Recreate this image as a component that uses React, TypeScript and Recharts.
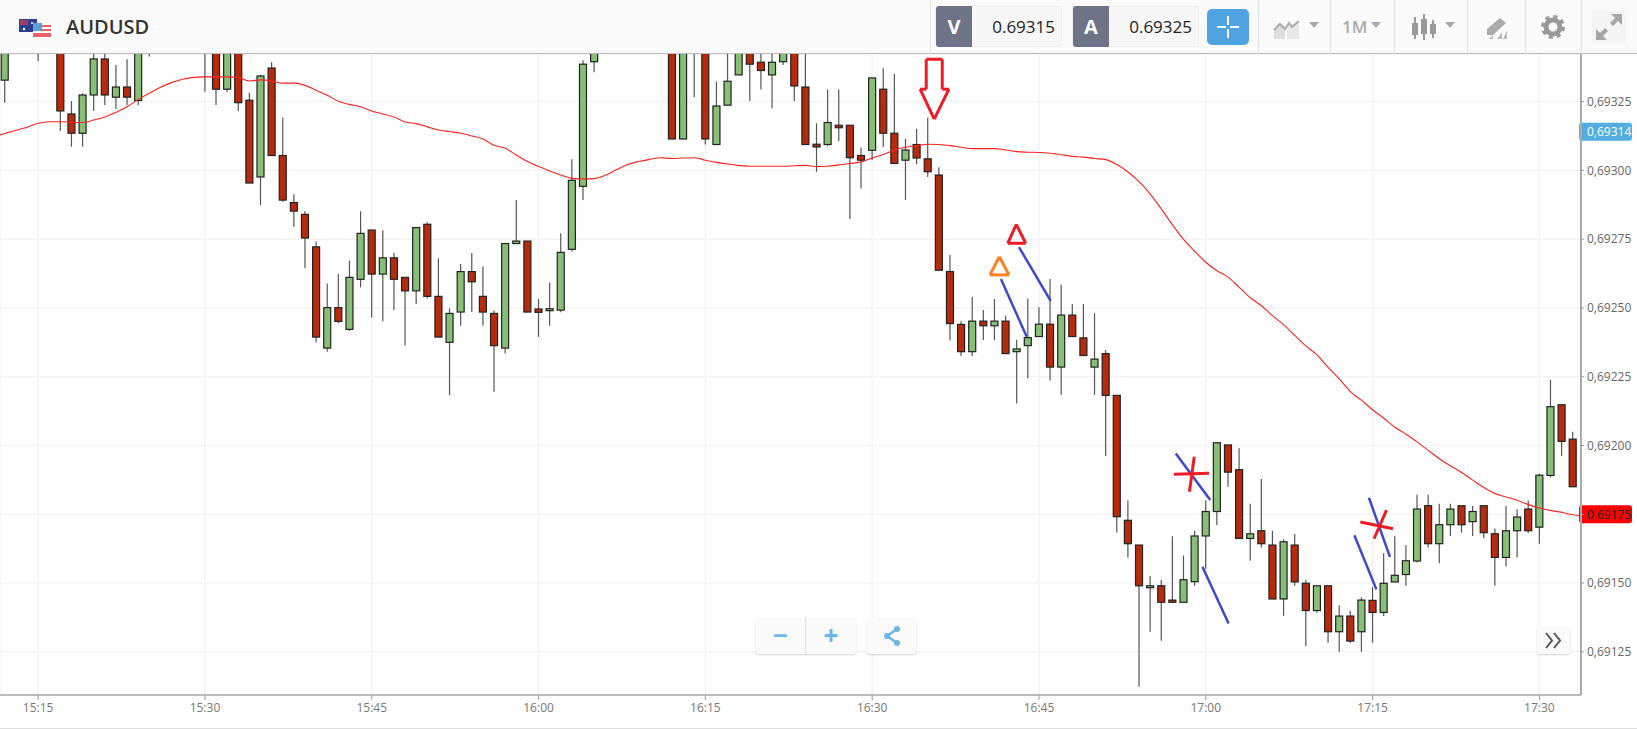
/**
 * AUDUSD one-minute candles with a moving average and hand-drawn markups.
 */
import React from "react";
import {
  Bar,
  CartesianGrid,
  ComposedChart,
  Line,
  ReferenceLine,
  XAxis,
  YAxis,
} from "recharts";

const FONT = "'Open Sans', sans-serif";

// candles are one per minute, minutes counted from midnight, first one is 15:11
const FIRST_MINUTE = 911;

// null = the candle sits above the visible window
const opens = [
  null,
  0.693328, null, null, 0.6935, null, 0.6935, 0.693205, 0.693135, 0.693274, 0.693405,
  0.693266, 0.693303, 0.693254, 0.6935, null, null, null, null, 0.69355, 0.6935,
  0.693295, 0.6935, 0.693255, 0.692976, 0.693372, 0.693054, 0.692883, 0.69284, 0.692722, 0.692354,
  0.692501, 0.692422, 0.692604, 0.692783, 0.692623, 0.692682, 0.692611, 0.692562, 0.692804, 0.692542,
  0.692375, 0.692485, 0.692632, 0.692542, 0.69248, 0.692354, 0.692734, 0.692743, 0.692496, 0.69249,
  0.692492, 0.692713, 0.692942, 0.693395, null, null, null, null, null, null,
  0.6935, 0.693114, 0.6935, 0.6935, 0.693094, 0.693237, 0.693347, 0.6935, 0.693393, 0.693347,
  0.693395, 0.6935, 0.693303, 0.693095, 0.693094, 0.693164, 0.693164, 0.693054, 0.693073, 0.693295,
  0.693135, 0.693037, 0.693094, 0.693042, 0.692983, 0.692632, 0.69244, 0.692341, 0.692452, 0.692435,
  0.692452, 0.692341, 0.692363, 0.692396, 0.692441, 0.692285, 0.692474, 0.692391, 0.692285, 0.692334,
  0.692182, 0.691728, 0.691638, 0.691483, 0.69149, 0.691438, 0.69143, 0.691505, 0.691671, 0.69176,
  0.692002, 0.691912, 0.691662, 0.69169, 0.691638, 0.691442, 0.691638, 0.691499, 0.6914, 0.69149,
  0.691323, 0.69138, 0.691323, 0.691437, 0.691393, 0.691504, 0.691531, 0.69158, 0.691781, 0.691643,
  0.691712, 0.691781, 0.691723, 0.691781, 0.691679, 0.691593, 0.69169, 0.691769, 0.691703, 0.691891,
  0.692148, 0.692023, null,
];

const highs = [
  null,
  0.69352, null, null, 0.69352, null, 0.69352, 0.693252, 0.69328, 0.69343, 0.69343,
  0.693383, 0.693404, 0.69352, 0.69352, null, null, null, null, 0.69358, 0.69352,
  0.69352, 0.69352, 0.693282, 0.693348, 0.693393, 0.693192, 0.692913, 0.692851, 0.692741, 0.692589,
  0.692623, 0.692672, 0.692851, 0.692783, 0.692782, 0.692701, 0.692611, 0.692792, 0.692811, 0.69268,
  0.692498, 0.69266, 0.6927, 0.692651, 0.692491, 0.692734, 0.692892, 0.692743, 0.692532, 0.692592,
  0.692771, 0.69304, 0.6934, 0.69348, null, null, null, null, null, null,
  0.69352, 0.69352, 0.69352, 0.69352, 0.693323, 0.69345, 0.69352, 0.69352, 0.69345, 0.69345,
  0.69346, 0.69352, 0.69345, 0.693171, 0.693294, 0.693294, 0.693164, 0.693083, 0.693336, 0.693371,
  0.693351, 0.693114, 0.693151, 0.693191, 0.693011, 0.692692, 0.692452, 0.692541, 0.692492, 0.692532,
  0.692472, 0.692384, 0.692533, 0.692502, 0.692605, 0.692584, 0.692514, 0.692514, 0.692481, 0.692347,
  0.692182, 0.6918, 0.691638, 0.691526, 0.691511, 0.69167, 0.6916, 0.69169, 0.6918, 0.69201,
  0.692002, 0.69199, 0.691788, 0.691878, 0.69169, 0.691659, 0.691678, 0.691511, 0.69149, 0.69149,
  0.691419, 0.691399, 0.691448, 0.691486, 0.691608, 0.69167, 0.691637, 0.691821, 0.691821, 0.691788,
  0.691788, 0.691781, 0.69178, 0.691781, 0.691698, 0.69178, 0.691768, 0.6918, 0.691897, 0.692238,
  0.692148, 0.69205, null,
];

const lows = [
  null,
  0.693246, null, null, 0.693398, null, 0.693143, 0.693086, 0.693086, 0.693216, 0.693238,
  0.693223, 0.693238, 0.693237, 0.693414, null, null, null, null, 0.693286, 0.693238,
  0.693286, 0.693216, 0.692954, 0.692874, 0.693054, 0.692886, 0.692795, 0.692644, 0.692374, 0.692341,
  0.692444, 0.692416, 0.692575, 0.692465, 0.692452, 0.692492, 0.692363, 0.692514, 0.692535, 0.692394,
  0.692183, 0.692435, 0.692485, 0.692435, 0.692195, 0.692334, 0.692734, 0.692485, 0.692395, 0.692435,
  0.692484, 0.692705, 0.692892, 0.693357, null, null, null, null, null, null,
  0.693114, 0.693114, 0.693266, 0.693094, 0.693094, 0.693237, 0.693347, 0.693252, 0.693294, 0.693225,
  0.693383, 0.693252, 0.693094, 0.692995, 0.693089, 0.693107, 0.692823, 0.692934, 0.693038, 0.693085,
  0.693025, 0.692892, 0.693023, 0.692976, 0.692637, 0.692382, 0.692325, 0.692325, 0.692383, 0.692383,
  0.692334, 0.692153, 0.692244, 0.692396, 0.692236, 0.692184, 0.692396, 0.692327, 0.692184, 0.691962,
  0.691684, 0.691593, 0.691123, 0.691323, 0.69129, 0.69143, 0.69143, 0.69149, 0.691552, 0.691711,
  0.69185, 0.691662, 0.691581, 0.691629, 0.691442, 0.691381, 0.69149, 0.691271, 0.691392, 0.691283,
  0.69125, 0.691283, 0.69125, 0.691283, 0.69138, 0.691504, 0.69149, 0.691575, 0.691629, 0.691572,
  0.691671, 0.691683, 0.691671, 0.691663, 0.69149, 0.69156, 0.691593, 0.691683, 0.691643, 0.691884,
  0.691962, 0.69185, null,
];

const closes = [
  null,
  0.6935, null, null, 0.69345, null, 0.693216, 0.693135, 0.693274, 0.693405, 0.693274,
  0.693303, 0.693266, 0.6935, 0.69345, null, null, null, null, 0.69348, 0.693295,
  0.6935, 0.693246, 0.692954, 0.693343, 0.693054, 0.692892, 0.692852, 0.692754, 0.692394, 0.692501,
  0.692451, 0.692611, 0.692771, 0.692623, 0.692682, 0.692604, 0.692562, 0.692792, 0.692542, 0.692394,
  0.69248, 0.692632, 0.692595, 0.692485, 0.692363, 0.692734, 0.692743, 0.692485, 0.692484, 0.692497,
  0.692702, 0.692964, 0.693386, 0.69346, null, null, null, null, null, null,
  0.693114, 0.6935, 0.69345, 0.693114, 0.693234, 0.693324, 0.6935, 0.693386, 0.693363, 0.693393,
  0.69345, 0.693307, 0.693094, 0.693085, 0.693174, 0.693155, 0.693046, 0.693037, 0.693336, 0.693135,
  0.693025, 0.693074, 0.693045, 0.692995, 0.692637, 0.692443, 0.692341, 0.692452, 0.692435, 0.692452,
  0.692334, 0.692351, 0.692392, 0.692441, 0.692285, 0.692474, 0.692396, 0.692327, 0.692314, 0.692182,
  0.691741, 0.691643, 0.69149, 0.69149, 0.69143, 0.69143, 0.691512, 0.691671, 0.69176, 0.69201,
  0.691903, 0.691662, 0.691679, 0.691643, 0.691442, 0.69165, 0.691504, 0.6914, 0.69149, 0.691323,
  0.69138, 0.691289, 0.691438, 0.691393, 0.691499, 0.691528, 0.691581, 0.691769, 0.691643, 0.691712,
  0.691769, 0.691712, 0.69176, 0.691683, 0.691593, 0.69169, 0.69174, 0.69169, 0.691892, 0.692141,
  0.692015, 0.69185, null,
];

const movingAverage = [
  0.693122,
  0.693134, 0.693146, 0.693157, 0.693171, 0.693177, 0.693177, 0.693175, 0.693174, 0.693183, 0.693194,
  0.693211, 0.693231, 0.693258, 0.69328, 0.693302, 0.693319, 0.693331, 0.693338, 0.69334, 0.69334,
  0.69334, 0.693338, 0.693325, 0.693329, 0.693325, 0.693317, 0.693317, 0.693309, 0.693291, 0.693273,
  0.693251, 0.69324, 0.693231, 0.693216, 0.693205, 0.693194, 0.693176, 0.69317, 0.693158, 0.693147,
  0.693141, 0.693135, 0.693125, 0.693114, 0.693091, 0.69308, 0.693056, 0.693032, 0.693014, 0.692998,
  0.692983, 0.692971, 0.692969, 0.69297, 0.692982, 0.693002, 0.693021, 0.693032, 0.69304, 0.693046,
  0.693043, 0.693045, 0.693046, 0.693037, 0.693029, 0.693023, 0.693018, 0.693015, 0.693015, 0.693015,
  0.693015, 0.693017, 0.693018, 0.693014, 0.693015, 0.69302, 0.693025, 0.693031, 0.693045, 0.693058,
  0.693074, 0.693084, 0.69309, 0.693095, 0.693094, 0.69309, 0.693084, 0.693079, 0.693079, 0.693079,
  0.693074, 0.693068, 0.693066, 0.693065, 0.693062, 0.693057, 0.693051, 0.693048, 0.693043, 0.693039,
  0.693021, 0.692994, 0.692959, 0.692914, 0.69286, 0.692802, 0.692749, 0.692706, 0.692666, 0.692635,
  0.692612, 0.692575, 0.692537, 0.692508, 0.692472, 0.692439, 0.6924, 0.692362, 0.692329, 0.692284,
  0.692242, 0.692196, 0.692164, 0.69213, 0.692099, 0.692066, 0.692041, 0.692013, 0.691982, 0.691952,
  0.691926, 0.691902, 0.691874, 0.691847, 0.691825, 0.691813, 0.691801, 0.691785, 0.691773, 0.691764,
  0.691757, 0.691748, 0.691744,
];

const timeTicks = [915, 930, 945, 960, 975, 990, 1005, 1020, 1035, 1050];
const priceTicks = [0.69125, 0.6915, 0.69175, 0.692, 0.69225, 0.6925, 0.69275, 0.693, 0.69325];

const bidLabel = "0.69315";
const askLabel = "0.69325";
const currentPrice = 0.69314;
const lastPrice = 0.69175;

// markups drawn over the chart, as [minute, price]
const redArrow = [
  [994.86, 0.693404], [996.3, 0.693404], [996.3, 0.693295], [996.9, 0.693295], [995.58, 0.693186],
  [994.31, 0.693295], [994.86, 0.693295], [994.86, 0.693404],
];
const redTriangle = [[1002.96, 0.692804], [1003.8, 0.692735], [1002.19, 0.692735], [1002.96, 0.692804]];
const orangeTriangle = [[1001.43, 0.692686], [1002.3, 0.69262], [1000.59, 0.69262], [1001.43, 0.692686]];
const blueStrokes = [
  [[1001.58, 0.692605], [1003.9, 0.692395]],
  [[1003.2, 0.692721], [1006.05, 0.692526]],
  [[1017.3, 0.691971], [1020.4, 0.691802]],
  [[1019.7, 0.691559], [1022.05, 0.691353]],
  [[1033.36, 0.691674], [1035.34, 0.691477]],
  [[1034.67, 0.69181], [1036.56, 0.691595]],
];
const redCrosses = [
  [[1017.13, 0.691895], [1020.29, 0.691899]],
  [[1018.96, 0.691959], [1018.53, 0.691832]],
  [[1033.9, 0.691722], [1036.83, 0.691697]],
  [[1036.25, 0.691765], [1035.13, 0.691661]],
];

const chartData = movingAverage.map((ma, i) => ({
  minute: FIRST_MINUTE + i,
  open: opens[i],
  high: highs[i],
  low: lows[i],
  close: closes[i],
  range: highs[i] == null ? null : [lows[i], highs[i]],
  ma,
}));

const formatTime = (m: number) =>
  `${Math.floor(m / 60)}:${String(m % 60).padStart(2, "0")}`;
const formatPrice = (v: number) => v.toFixed(5).replace(".", ",");

const Candle = (props: any) => {
  const { x, y, width, height, payload } = props;
  if (payload.high == null || !height) return null;
  const top = Math.min(y, y + height);
  const span = Math.abs(height);
  const toY = (v: number) =>
    top + ((payload.high - v) / (payload.high - payload.low)) * span;
  const up = payload.close >= payload.open;
  const bodyTop = toY(Math.max(payload.open, payload.close));
  const bodyBottom = toY(Math.min(payload.open, payload.close));
  const cx = x + width / 2;
  return (
    <g>
      <line x1={cx} x2={cx} y1={top} y2={top + span} stroke="#555" strokeWidth={1.2} />
      <rect
        x={x}
        y={bodyTop}
        width={width}
        height={Math.max(bodyBottom - bodyTop, 1)}
        fill={up ? "#86bf75" : "#b82a0a"}
        stroke="#222"
        strokeWidth={1.2}
      />
    </g>
  );
};

const priceTag = (value: number, fill: string, color: string) => (props: any) => {
  const { viewBox } = props;
  const left = viewBox.x + viewBox.width - 2;
  const cy = viewBox.y;
  return (
    <g>
      <rect x={left} y={cy - 9} width={53} height={18} rx={3} fill={fill} />
      <text
        x={left + 8}
        y={cy + 4.5}
        fontFamily={FONT}
        fontSize={12}
        fill={color}
      >
        {formatPrice(value)}
      </text>
    </g>
  );
};

function polySegments(points: number[][], stroke: string, width: number, key: string) {
  return points.slice(1).map((p, i) => (
    <ReferenceLine
      key={`${key}-${i}`}
      ifOverflow="visible"
      stroke={stroke}
      strokeWidth={width}
      segment={[
        { x: points[i][0], y: points[i][1] },
        { x: p[0], y: p[1] },
      ]}
    />
  ));
}

const caret = (left: number, top: number, width: number) => (
  <div
    style={{
      position: "absolute",
      left,
      top,
      width: 0,
      height: 0,
      borderLeft: `${width / 2}px solid transparent`,
      borderRight: `${width / 2}px solid transparent`,
      borderTop: "6px solid #aaa",
    }}
  />
);

const Divider = ({ x }: { x: number }) => (
  <div style={{ position: "absolute", left: x, top: 0, width: 1, height: 54, background: "#e2e2e2" }} />
);

function Quote({ x, letter, value }: { x: number; letter: string; value: string }) {
  return (
    <div
      style={{
        position: "absolute",
        left: x,
        top: 6,
        width: 127,
        height: 41,
        background: "#f7f7f7",
        border: "1px solid #eee",
        boxSizing: "border-box",
        borderRadius: 3,
      }}
    >
      <div
        style={{
          position: "absolute",
          left: 0,
          top: -1,
          width: 36,
          height: 41,
          background: "#6e7387",
          color: "#fff",
          fontWeight: 700,
          fontSize: 20,
          lineHeight: "41px",
          textAlign: "center",
          borderRadius: "3px 0 0 3px",
        }}
      >
        {letter}
      </div>
      <div
        style={{
          position: "absolute",
          right: 6,
          top: 0,
          fontSize: 17,
          lineHeight: "39px",
          color: "#222",
        }}
      >
        {value}
      </div>
    </div>
  );
}

function Header() {
  return (
    <div
      style={{
        position: "absolute",
        left: 0,
        top: 0,
        width: 1637,
        height: 54,
        background: "#fafafa",
        borderBottom: "1px solid #bbb",
        boxSizing: "border-box",
        fontFamily: FONT,
        zIndex: 2,
      }}
    >
      <svg style={{ position: "absolute", left: 19, top: 19 }} width={33} height={19}>
        <rect x={0} y={0} width={18} height={13} fill="#2f3f8f" />
        <rect x={1} y={1} width={8} height={5} fill="#c8414f" opacity={0.7} />
        <circle cx={13} cy={4} r={1} fill="#fff" />
        <circle cx={5} cy={10} r={1.2} fill="#fff" />
        <rect x={14} y={4} width={18} height={14} fill="#fff" />
        <rect x={14} y={6} width={18} height={2} fill="#e9606a" />
        <rect x={14} y={10} width={18} height={2} fill="#e9606a" />
        <rect x={14} y={14} width={18} height={2} fill="#e9606a" />
        <rect x={14} y={16} width={18} height={2} fill="#e9606a" />
        <rect x={14} y={4} width={9} height={8} fill="#5aa0dc" />
      </svg>
      <div
        style={{
          position: "absolute",
          left: 66,
          top: 13,
          fontSize: 20,
          lineHeight: "28px",
          fontWeight: 600,
          color: "#333",
        }}
      >
        AUDUSD
      </div>

      <Divider x={930} />
      <Quote x={935} letter="V" value={bidLabel} />
      <Quote x={1072} letter="A" value={askLabel} />

      <div
        style={{
          position: "absolute",
          left: 1207,
          top: 9,
          width: 42,
          height: 36,
          background: "#4ea3e0",
          borderRadius: 5,
        }}
      >
        <svg width={42} height={36}>
          <path d="M21 7v9M21 20v9M10 18h9M23 18h9" stroke="#fff" strokeWidth={2} />
        </svg>
      </div>

      <Divider x={1258} />
      <svg style={{ position: "absolute", left: 1273, top: 19 }} width={28} height={21}>
        <path d="M1 20V10l6-5 5 5v10z" fill="#ddd" />
        <path d="M14 20V8l12-6v18z" fill="#e8e8e8" />
        <path d="M1 11l6-6 5 5 4-6 3 4 7-6" fill="none" stroke="#aaa" strokeWidth={2} />
      </svg>
      {caret(1309, 22, 10)}

      <Divider x={1330} />
      <div
        style={{
          position: "absolute",
          left: 1342,
          top: 15,
          fontSize: 17,
          lineHeight: "24px",
          fontWeight: 600,
          color: "#aaa",
        }}
      >
        1M
      </div>
      {caret(1371, 22, 11)}

      <Divider x={1394} />
      <svg style={{ position: "absolute", left: 1411, top: 14 }} width={26} height={28}>
        <path d="M4 3v22M13 0v26M22 6v18" stroke="#999" strokeWidth={2} />
        <rect x={1} y={9} width={6} height={12} fill="#999" />
        <rect x={10} y={5} width={6} height={15} fill="#999" />
        <rect x={19} y={10} width={6} height={10} fill="#999" />
      </svg>
      {caret(1445, 22, 10)}

      <Divider x={1467} />
      <svg style={{ position: "absolute", left: 1483, top: 17 }} width={25} height={24}>
        <path d="M17 1l6 5L10 18H4v-6z" fill="#aaa" />
        <path d="M0 22h6l4-4v4zM14 22l5-7v7zM20 22l4-9v9z" fill="#bbb" />
      </svg>

      <Divider x={1525} />
      <svg style={{ position: "absolute", left: 1540, top: 15 }} width={26} height={24}>
        <circle cx={13} cy={12} r={7} fill="none" stroke="#999" strokeWidth={5} />
        <circle
          cx={13}
          cy={12}
          r={10}
          fill="none"
          stroke="#999"
          strokeWidth={4}
          strokeDasharray="4 3.85"
        />
      </svg>

      <Divider x={1581} />
      <div style={{ position: "absolute", left: 1592, top: 11, width: 34, height: 32, background: "#f4f4f4" }}>
        <svg width={34} height={32}>
          <path d="M19 3h11v11l-4-4-5 5-3-3 5-5zM15 29H4V18l4 4 5-5 3 3-5 5z" fill="#a5a5a5" />
        </svg>
      </div>
    </div>
  );
}

const floatButton: React.CSSProperties = {
  position: "absolute",
  background: "#fafafa",
  borderRadius: 3,
  boxShadow: "0 1px 2px rgba(0,0,0,0.18)",
  fontFamily: FONT,
  zIndex: 1,
};

function ChartButtons() {
  return (
    <>
      <div style={{ ...floatButton, left: 756, top: 618, width: 100, height: 36, display: "flex" }}>
        <div style={{ width: 49, textAlign: "center", color: "#6db6e3", fontSize: 26, fontWeight: 700, lineHeight: "34px", borderRight: "1px solid #ddd" }}>
          −
        </div>
        <div style={{ width: 50, textAlign: "center", color: "#6db6e3", fontSize: 26, fontWeight: 700, lineHeight: "34px" }}>
          +
        </div>
      </div>
      <div style={{ ...floatButton, left: 867, top: 618, width: 49, height: 36 }}>
        <svg width={49} height={36}>
          <path d="M30 11L20 18l10 7" fill="none" stroke="#6db6e3" strokeWidth={2.5} />
          <circle cx={30} cy={11} r={3} fill="#6db6e3" />
          <circle cx={20} cy={18} r={3} fill="#6db6e3" />
          <circle cx={30} cy={25} r={3} fill="#6db6e3" />
        </svg>
      </div>
      <div style={{ ...floatButton, left: 1537, top: 627, width: 33, height: 27 }}>
        <svg width={33} height={27}>
          <path d="M9 6l6 7.5-6 7.5M17 6l6 7.5-6 7.5" fill="none" stroke="#555" strokeWidth={2} />
        </svg>
      </div>
    </>
  );
}

export default function App() {
  return (
    <div
      style={{
        position: "absolute",
        left: 0,
        top: 0,
        width: 1637,
        height: 729,
        overflow: "hidden",
        background: "#fff",
        borderBottom: "1px solid #ddd",
        boxSizing: "border-box",
      }}
    >
      <Header />
      <ChartButtons />
      <ComposedChart
        width={1637}
        height={729}
        data={chartData}
        margin={{ top: 54, right: 0, bottom: 0, left: 0 }}
      >
        <CartesianGrid stroke="#f3f3f3" strokeWidth={1.5} />
        <XAxis
          dataKey="minute"
          type="number"
          domain={[911.57, 1053.74]}
          allowDataOverflow
          ticks={timeTicks}
          tickFormatter={formatTime}
          height={34}
          tickSize={5}
          tickMargin={3}
          interval={0}
          axisLine={{ stroke: "#bbb", strokeWidth: 2 }}
          tickLine={{ stroke: "#999" }}
          tick={{ fill: "#777", fontSize: 12, fontFamily: FONT }}
        />
        <YAxis
          orientation="right"
          type="number"
          domain={[0.691093, 0.693423]}
          allowDataOverflow
          ticks={priceTicks}
          tickFormatter={(v: number) => (v === lastPrice ? "" : formatPrice(v))}
          width={56}
          tickSize={3}
          tickMargin={3}
          interval={0}
          axisLine={{ stroke: "#aaa", strokeWidth: 2 }}
          tickLine={{ stroke: "#999" }}
          tick={{ fill: "#666", fontSize: 12, fontFamily: FONT }}
        />
        <Bar dataKey="range" barSize={7} shape={Candle} isAnimationActive={false} />
        <Line
          dataKey="ma"
          type="monotone"
          stroke="#ff2020"
          strokeWidth={1.1}
          dot={false}
          activeDot={false}
          isAnimationActive={false}
        />
        {polySegments(redArrow, "#ed1c24", 3, "arrow")}
        {polySegments(redTriangle, "#ed1c24", 3, "red-tri")}
        {polySegments(orangeTriangle, "#ff7f27", 3, "orange-tri")}
        {blueStrokes.map((s, i) => polySegments(s, "#3f48cc", 2.5, `blue-${i}`))}
        {redCrosses.map((s, i) => polySegments(s, "#ed1c24", 3, `cross-${i}`))}
        <ReferenceLine
          y={currentPrice}
          stroke="none"
          label={priceTag(currentPrice, "#52aee0", "#fff")}
        />
        <ReferenceLine
          y={lastPrice}
          stroke="none"
          label={priceTag(lastPrice, "#ff0000", "#222")}
        />
      </ComposedChart>
    </div>
  );
}
